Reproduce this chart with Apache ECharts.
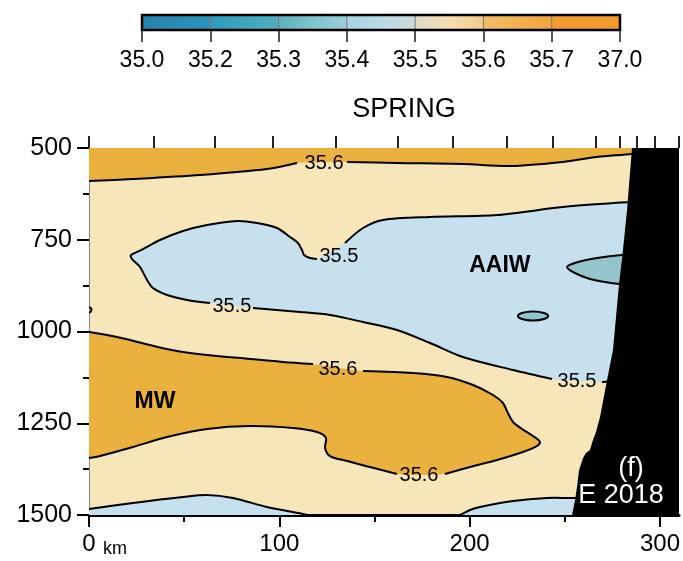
<!DOCTYPE html>
<html>
<head>
<meta charset="utf-8">
<script src="https://cdn.jsdelivr.net/npm/echarts@6/dist/echarts.min.js"></script>
<style>
  html, body { margin: 0; padding: 0; background: #fff; }
  #chart { width: 683px; height: 561px; }
</style>
</head>
<body>
<div id="chart"></div>
<script>
const FONT = '"Liberation Sans", Arial, Helvetica, sans-serif';

// ---- colour bar (salinity classes) ----
const salinityTicks = ['35.0', '35.2', '35.3', '35.4', '35.5', '35.6', '35.7', '37.0'];
const barColorFrom = ['#2783ab', '#2c9bbc', '#5cb2bd', '#a5d4e1', '#dcd9c6', '#f0bd68', '#f39c31'];
const barColorMid  = ['#2a8bb3', '#3fa6bf', '#7fc3ca', '#b8dbe3', '#f5dfb0', '#f2b052', '#f39b30'];
const barColorTo   = ['#2b93b8', '#52adbe', '#9ccfd6', '#cbdcd9', '#f2c98a', '#f4a43e', '#f3992d'];

// ---- section axes ----
const distTicks = [0, 100, 200, 300];          // km, labelled
const distMinorTicks = [50, 150, 250];         // km, short ticks
const stationKm = [0, 34.2, 66.2, 96.7, 129.8, 162.3, 191.2, 219.6, 243.8, 266.4, 279.0, 287.9, 297.4, 310];

// ---- isohalines, [distance km, depth m]; null = gap for a contour label ----
const iso356Upper = [[0, 590], [23.1, 584.5], [58.3, 573.6], [93.5, 557.2], [109.3, 540.9], null,
  [135.6, 538.1], [161.8, 540.9], [196.5, 543.6], [221.2, 549], [249, 538], [266.9, 524.5], [285.3, 516.4], [290, 512]];

const iso355Aaiw = [[290, 646], [284.2, 647.1], [249.0, 660.8], [214.4, 682.6], [179.2, 688.0], [154.5, 696.2],
  [144.0, 718.0], [134.5, 758.9], null,
  [119.8, 802.4], [116.1, 799.7], [113.0, 791.6], [111.9, 777.9], [109.8, 758.9], [105.6, 742.5], [98.8, 718.0],
  [88.3, 704.4], [77.8, 698.9], [62.0, 709.8], [49.4, 726.2], [37.3, 750.7], [26.8, 779.8], [22.1, 791.6],
  [22.6, 802.4], [26.8, 824.3], [30.5, 859.7], [33.6, 881.5], [41.0, 900.6], [51.5, 914.2], [63.6, 922.4], null,
  [86.2, 936.0], [110.9, 946.9], [126.6, 955.1], [144.0, 974.1], [161.8, 995.9], [179.2, 1031.3], [196.5, 1069.5],
  [222.8, 1104.9], [243.3, 1129.4], null, [269.5, 1137.6], [278, 1135]];

const iso354East = [[288, 791], [280.0, 791.6], [266.9, 799.7], [256.9, 810.6], [251.1, 824.3], [255.3, 840.6],
  [263.2, 856.9], [271.1, 865.1], [279.0, 870.6], [288, 874]];

const iso354Eddy = [[225.4, 957.8], [227.5, 949.6], [233.3, 945.5], [239.1, 949.6], [241.2, 957.8],
  [239.1, 965.9], [233.3, 970.0], [227.5, 965.9]];

const iso356Mw = [[0, 1001.4], [14.7, 1015.0], [32.0, 1036.8], [46.2, 1053.1], [62.0, 1064.0], [84.6, 1074.9],
  [101.9, 1083.1], [117.7, 1088.5], null,
  [144.0, 1107.6], [170.2, 1113.1], [188.1, 1124.0], [201.8, 1145.8], [212.3, 1173.0], [217.5, 1194.8],
  [220.1, 1222.1], [222.8, 1246.6], [227.5, 1265.7], [233.3, 1284.7], [237.0, 1301.1], [235.4, 1312.0],
  [228.0, 1328.4], [214.4, 1350.2], [200.2, 1369.2], [187.0, 1388.3], null,
  [161.8, 1388.3], [147.6, 1369.2], [135.6, 1352.9], [126.6, 1339.3], [124.0, 1317.5], [124.5, 1290.2],
  [119.8, 1273.9], [107.2, 1263.0], [84.6, 1257.6], [62.0, 1265.7], [41.0, 1287.5], [23.1, 1314.8],
  [5.8, 1339.3], [0, 1344.8]];

const iso356West = [[0, 933], [0.9, 936], [1.3, 941], [0.9, 946], [0, 948]];

const iso355BottomW = [[0, 1483.7], [23.1, 1467.3], [49.4, 1451.0], [62.0, 1445.5], [75.6, 1453.7],
  [93.5, 1478.2], [112.4, 1497.3], [118, 1503]];
const iso355BottomE = [[192, 1504], [194.9, 1500], [200.2, 1486.4], [205.4, 1478.2], [222.8, 1461.9],
  [240.6, 1453.7], [253.8, 1453.7], [262, 1453]];

// continental slope
const seabed = [[285.3, 500], [282.7, 669], [280.3, 791.6], [278.5, 870.6], [275.3, 1050.4], [272.2, 1132.2],
  [268.5, 1233], [266.4, 1273.9], [264.8, 1295.7], [263.2, 1323], [261.1, 1331], [259.6, 1344.6],
  [257.5, 1377.3], [256.4, 1423.7], [255.4, 1459.1], [253.8, 1500]];

// contour labels
const contourLabelPos = [[123.5, 540.9], [131.3, 794.3], [75.1, 930.5], [256.4, 1134.9], [130.8, 1102.2], [173.4, 1391.0]];
const contourLabelText = ['35.6', '35.5', '35.5', '35.5', '35.6', '35.6'];

// water-mass names and panel tag
const annotPos = [[215.9, 821.5], [34.7, 1192], [284.8, 1374.7], [279.5, 1448.3]];
const annotText = ['AAIW', 'MW', '(f)', 'E 2018'];

const C_ORANGE = '#ebb13f', C_WHEAT = '#f7e6ba', C_BLUE = '#c6e0ee', C_TEAL = '#94c4cc';

function fill(points, closing, color, smooth) {
  const pts = points.filter(p => p).concat(closing);
  return {
    type: 'custom', xAxisIndex: 1, yAxisIndex: 1, clip: true, silent: true,
    data: [[150, 1000]],
    renderItem: (params, api) => ({
      type: 'polygon',
      shape: { points: pts.map(p => api.coord(p)), smooth: smooth },
      style: { fill: color }
    })
  };
}

function contour(points, smooth, closed) {
  const runs = [];
  let cur = [];
  points.forEach(p => { if (p) cur.push(p); else { runs.push(cur); cur = []; } });
  runs.push(cur);
  return {
    type: 'custom', xAxisIndex: 1, yAxisIndex: 1, clip: true, silent: true,
    data: [[150, 1000]],
    renderItem: (params, api) => ({
      type: 'group',
      children: runs.map(r => ({
        type: closed ? 'polygon' : 'polyline',
        shape: { points: r.map(p => api.coord(p)), smooth: smooth },
        style: { fill: 'none', stroke: '#000', lineWidth: 2 }
      }))
    })
  };
}

function texts(pos, txt, style) {
  return {
    type: 'custom', xAxisIndex: 1, yAxisIndex: 1, silent: true, z: 5,
    data: pos,
    renderItem: (params, api) => {
      const c = api.coord([api.value(0), api.value(1)]);
      return {
        type: 'text', x: c[0], y: c[1],
        style: Object.assign({ text: txt[params.dataIndex], align: 'center', verticalAlign: 'middle' }, style(params.dataIndex))
      };
    }
  };
}

const chart = echarts.init(document.getElementById('chart'), null, { renderer: 'canvas' });

const option = {
  animation: false,
  textStyle: { fontFamily: FONT },
  grid: [
    { left: 142, top: 15, width: 478, height: 15, show: false },
    { left: 89, top: 148, width: 590, height: 367, show: true, backgroundColor: C_WHEAT, borderWidth: 0 }
  ],
  xAxis: [
    {
      gridIndex: 0, type: 'value', min: 0, max: 7, interval: 1,
      axisLine: { show: false }, splitLine: { show: false },
      axisTick: { length: 12, lineStyle: { color: '#555', width: 2 } },
      axisLabel: { formatter: v => salinityTicks[v], fontSize: 23, color: '#000', margin: 19, fontFamily: FONT }
    },
    {
      gridIndex: 1, type: 'value', min: 0, max: 310, position: 'bottom',
      axisLine: { show: true, lineStyle: { color: '#000', width: 3 } },
      axisTick: { customValues: distTicks, length: 12, lineStyle: { color: '#000', width: 2 } },
      axisLabel: { customValues: distTicks, formatter: v => String(v), fontSize: 24, color: '#000', margin: 17, fontFamily: FONT },
      splitLine: { show: false }
    },
    {
      gridIndex: 1, type: 'value', min: 0, max: 310, position: 'bottom',
      axisLine: { show: false },
      axisTick: { customValues: distMinorTicks, length: 7, lineStyle: { color: '#000', width: 2 } },
      axisLabel: { show: false }, splitLine: { show: false }
    },
    {
      gridIndex: 1, type: 'value', min: 0, max: 310, position: 'top',
      axisLine: { show: false },
      axisTick: { customValues: stationKm, length: 12, lineStyle: { color: '#222', width: 2 } },
      axisLabel: { show: false }, splitLine: { show: false }
    }
  ],
  yAxis: [
    { gridIndex: 0, type: 'value', min: 0, max: 1, show: false },
    {
      gridIndex: 1, type: 'value', min: 500, max: 1500, interval: 250, inverse: true,
      axisLine: { show: true, lineStyle: { color: '#888', width: 1 } },
      axisTick: { show: true, length: 12, lineStyle: { color: '#000', width: 2 } },
      minorTick: { show: true, splitNumber: 2, length: 6, lineStyle: { color: '#000', width: 2 } },
      axisLabel: { formatter: v => String(v), fontSize: 25, color: '#000', margin: 17, fontFamily: FONT },
      splitLine: { show: false }
    }
  ],
  graphic: [
    { type: 'text', x: 404, y: 110, style: { text: 'SPRING', font: '27px ' + FONT, fill: '#000', align: 'center', verticalAlign: 'middle' } },
    { type: 'text', x: 115, y: 549, style: { text: 'km', font: '18px ' + FONT, fill: '#000', align: 'center', verticalAlign: 'middle' } }
  ],
  series: [
    // colour bar
    {
      type: 'custom', xAxisIndex: 0, yAxisIndex: 0, silent: true,
      data: barColorFrom.map((c, i) => [i, 0]),
      renderItem: (params, api) => {
        const i = params.dataIndex;
        const p0 = api.coord([i, 1]), p1 = api.coord([i + 1, 0]);
        return {
          type: 'group',
          children: [
            {
              type: 'rect',
              shape: { x: p0[0], y: p0[1], width: p1[0] - p0[0], height: p1[1] - p0[1] },
              style: {
                fill: new echarts.graphic.LinearGradient(0, 0, 1, 0, [
                  { offset: 0, color: barColorFrom[i] },
                  { offset: 0.5, color: barColorMid[i] },
                  { offset: 1, color: barColorTo[i] }
                ])
              }
            },
            {
              type: 'line',
              shape: { x1: p0[0], y1: p0[1], x2: p0[0], y2: p1[1] },
              style: { stroke: i === 0 ? 'none' : '#777', lineWidth: 1 }
            }
          ]
        };
      }
    },
    {
      type: 'custom', xAxisIndex: 0, yAxisIndex: 0, silent: true, z: 3,
      data: [[0, 0]],
      renderItem: (params, api) => {
        const p0 = api.coord([0, 1]), p1 = api.coord([7, 0]);
        return {
          type: 'rect',
          shape: { x: p0[0], y: p0[1], width: p1[0] - p0[0], height: p1[1] - p0[1] },
          style: { fill: 'none', stroke: '#000', lineWidth: 2.5 }
        };
      }
    },
    // filled salinity classes
    fill(iso356Upper, [[300, 480], [-10, 480], [-10, 590]], C_ORANGE, 0.3),
    fill(iso355Aaiw, [[300, 1140], [300, 640]], C_BLUE, 0.3),
    fill(iso354East, [[300, 874], [300, 791]], C_TEAL, 0.3),
    fill(iso354Eddy, [], C_TEAL, 0.5),
    fill(iso356Mw, [[-10, 1345], [-10, 1001]], C_ORANGE, 0.3),
    fill(iso355BottomW, [[125, 1530], [-10, 1530], [-10, 1484]], C_BLUE, 0.3),
    fill(iso355BottomE, [[270, 1453], [270, 1530], [190, 1530]], C_BLUE, 0.3),
    // isohalines
    contour(iso356Upper, 0.3),
    contour(iso355Aaiw, 0.3),
    contour(iso354East, 0.3),
    contour(iso354Eddy, 0.5, true),
    contour(iso356Mw, 0.3),
    contour(iso356West, 0.4),
    contour(iso355BottomW, 0.3),
    contour(iso355BottomE, 0.3),
    // continental slope on top of the isohalines that run into it
    fill(seabed, [[330, 1530], [330, 480], [285.3, 480]], '#000', 0),
    // labels
    texts(contourLabelPos, contourLabelText, () => ({ font: '20px ' + FONT, fill: '#000' })),
    texts(annotPos, annotText, i => i < 2
      ? { font: 'bold 23px ' + FONT, fill: '#000' }
      : { font: '27px ' + FONT, fill: '#fff' })
  ]
};

chart.setOption(option);
</script>
</body>
</html>
